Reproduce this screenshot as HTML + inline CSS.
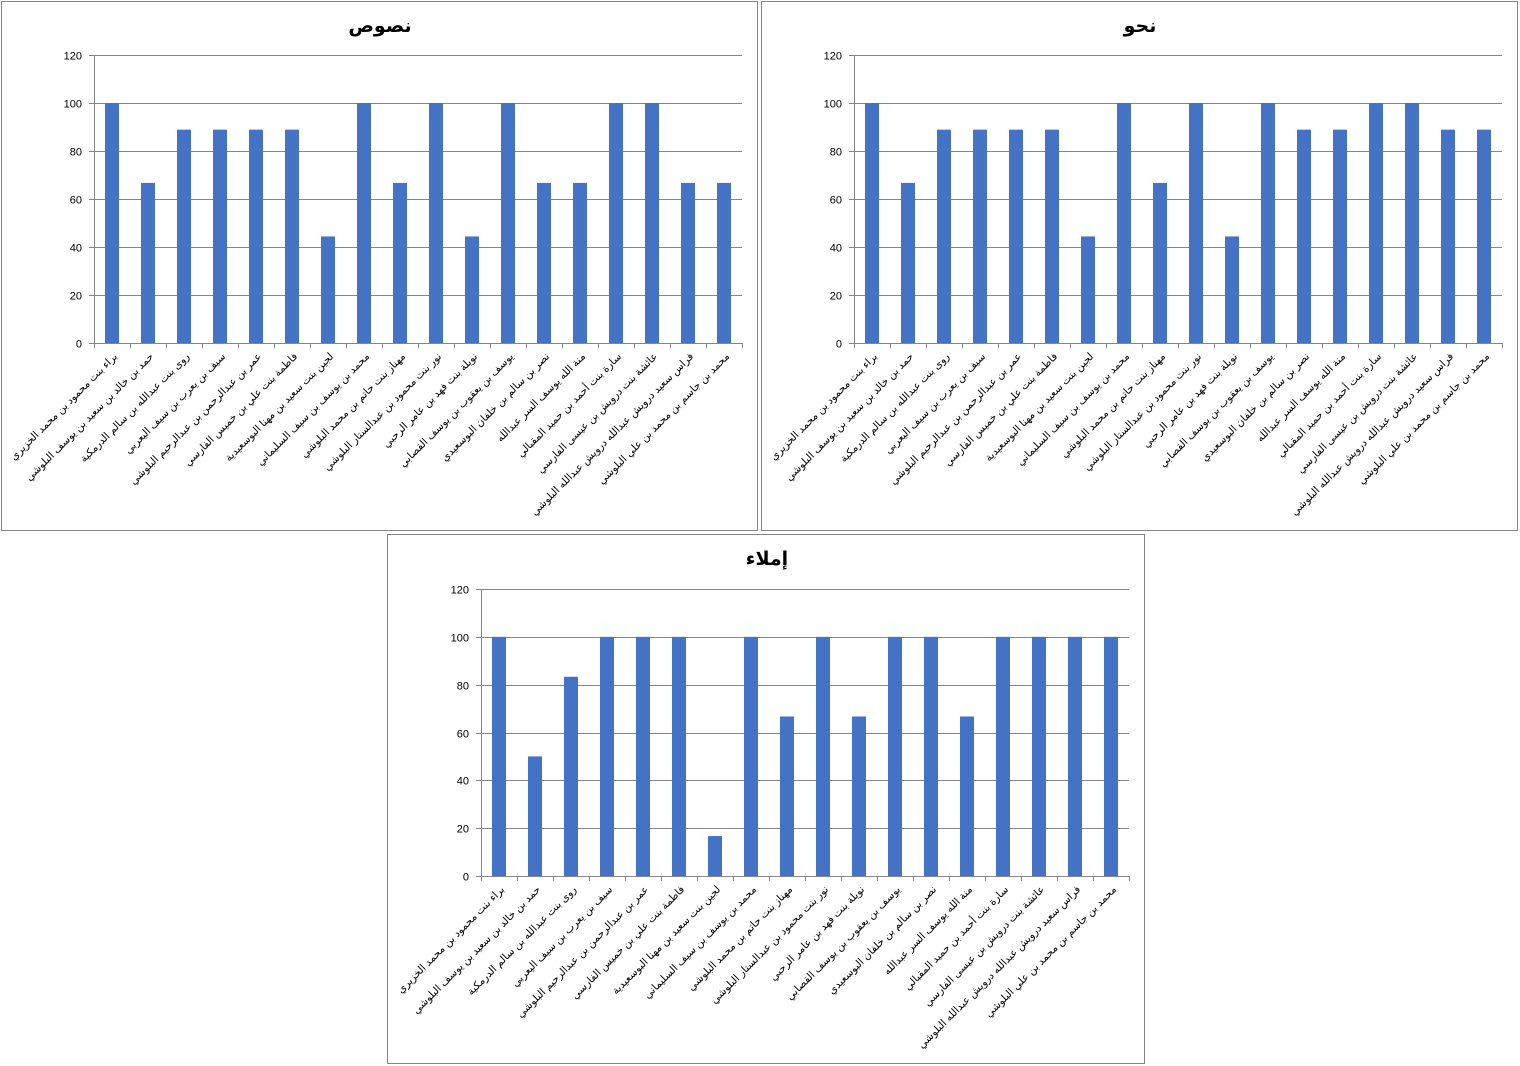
<!DOCTYPE html>
<html><head><meta charset="utf-8">
<style>
body{margin:0;background:#fff;width:1520px;height:1066px;overflow:hidden}
svg{position:absolute;left:0;top:0}
text{font-family:"Liberation Sans","DejaVu Sans",sans-serif}
</style></head>
<body>
<svg id="s" width="1520" height="1066"></svg>
<script>
const categories=[
"براء بنت محمود بن محمد الخزيري",
"حمد بن خالد بن سعيد بن يوسف البلوشي",
"روى بنت عبدالله بن سالم الدرمكية",
"سيف بن يعرب بن سيف اليعربي",
"عمر بن عبدالرحمن بن عبدالرحيم البلوشي",
"فاطمة بنت علي بن خميس الفارسي",
"لجين بنت سعيد بن مهنا البوسعيدية",
"محمد بن يوسف بن سيف السليماني",
"مهناز بنت حاتم بن محمد البلوشي",
"نور بنت محمود بن عبدالستار البلوشي",
"نويلة بنت فهد بن عامر الرحبي",
"يوسف بن يعقوب بن يوسف القصابي",
"نصر بن سالم بن خلفان البوسعيدي",
"منة الله يوسف السر عبدالله",
"سارة بنت أحمد بن حميد المقبالي",
"عائشة بنت درويش بن عيسى الفارسي",
"فراس سعيد درويش عبدالله درويش عبدالله البلوشي",
"محمد بن جاسم بن محمد بن علي البلوشي"];
const nusoosValues=[100,66.7,88.9,88.9,88.9,88.9,44.4,100,66.7,100,44.4,100,66.7,66.7,100,100,66.7,66.7];
const nahwValues=[100,66.7,88.9,88.9,88.9,88.9,44.4,100,66.7,100,44.4,100,88.9,88.9,100,100,88.9,88.9];
const imlaaValues=[100,50,83.3,100,100,100,16.7,100,66.7,100,66.7,100,100,66.7,100,100,100,100];
const yTicks=[0,20,40,60,80,100,120];
const titles=["نصوص","نحو","إملاء"];

const NS="http://www.w3.org/2000/svg";
const svg=document.getElementById('s');
function mk(tag,attrs,parent){const e=document.createElementNS(NS,tag);for(const k in attrs)e.setAttribute(k,attrs[k]);(parent||svg).appendChild(e);return e;}

function chart(px,py,pw,ph,plotX,plotTop,plotBottom,plotW,title,values,name){
  const g=mk('g',{});
  
  
  const frame=mk('rect',{x:px+0.5,y:py+0.5,width:pw,height:ph,fill:'#fff',stroke:'#868686'},g);
  
  
  const t=mk('text',{x:plotX+plotW/2-38,y:py+31,'font-size':19,'font-weight':'bold','text-anchor':'middle',fill:'#000'},g);
  t.textContent=title;
  
  
  const yS=v=>plotBottom-(v/120)*(plotBottom-plotTop);
  const n=categories.length, cw=plotW/n;
  yTicks.forEach(v=>{
    const y=Math.round(yS(v))+0.5;
    const gl=mk('line',{x1:plotX-5,x2:plotX+plotW,y1:y,y2:y,stroke:'#868686'},g);
    
    
    const tl=mk('text',{x:plotX-12,y:y+4,'font-size':11,'text-anchor':'end',fill:'#000'},g);
    tl.textContent=v;
    
    
  });
  mk('line',{x1:plotX+0.5,x2:plotX+0.5,y1:plotTop,y2:plotBottom+0.5,stroke:'#868686'},g);
  for(let i=0;i<=n;i++){const x=Math.round(plotX+i*cw)+0.5;mk('line',{x1:x,x2:x,y1:plotBottom,y2:plotBottom+5,stroke:'#868686'},g);}
  values.forEach((v,i)=>{
    const bw=14, x=plotX+i*cw+cw/2-bw/2;
    const b=mk('rect',{x:x,y:yS(v),width:bw,height:plotBottom-yS(v),fill:'#4472C4'},g);
    
    
  });
  categories.forEach((c,i)=>{
    const x=plotX+i*cw+cw/2+6, y=plotBottom+14;
    const tx=mk('text',{transform:`translate(${x},${y}) rotate(-45)`,'font-size':10.5,'text-anchor':'end',fill:'#000'},g);
    
    
    tx.textContent=c;
  });
}
chart(1,1,756,529,94,55,343,648,titles[0],nusoosValues,'chart-nusoos');
chart(761,1,756,529,854,55,343,648,titles[1],nahwValues,'chart-nahw');
chart(387,534,757,529,481,589,876,648,titles[2],imlaaValues,'chart-imlaa');
</script>
</body></html>
